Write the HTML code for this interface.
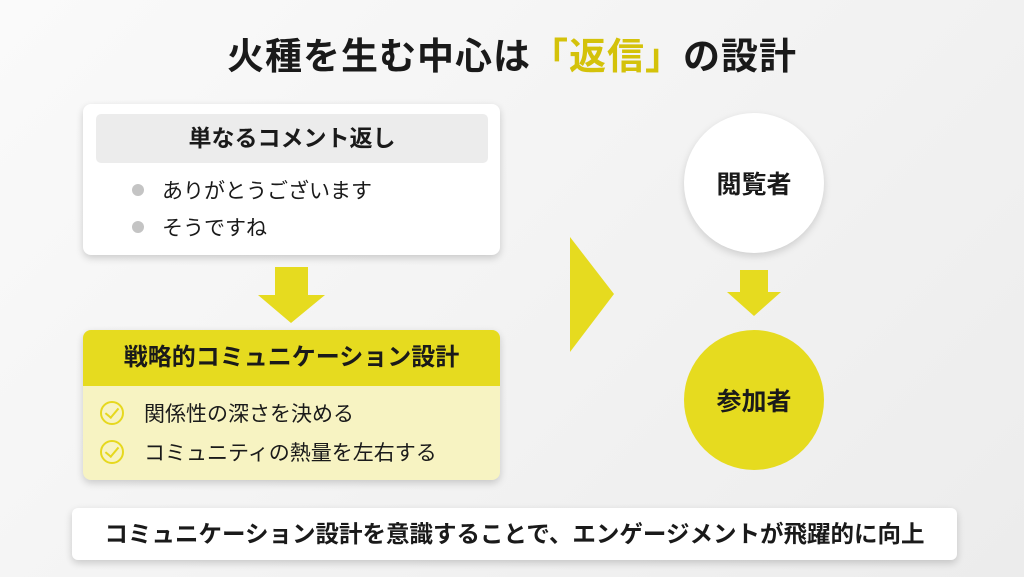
<!DOCTYPE html>
<html><head><meta charset="utf-8"><style>
body{margin:0;width:1024px;height:577px;overflow:hidden;background:linear-gradient(135deg,#fafafa,#ececec);font-family:"Liberation Sans","Noto Sans CJK JP",sans-serif;color:#1a1a1a;position:relative}
.a{position:absolute}
.t{left:0;width:1024px;top:26px;text-align:center;font-size:37px;font-weight:700;letter-spacing:1px}
.card{border-radius:8px;box-shadow:0 3px 8px rgba(0,0,0,.18);overflow:hidden}
.li{font-size:21px;display:flex;align-items:center}
.dot{width:12px;height:12px;border-radius:50%;background:#c4c4c4;margin-right:18px}
.ck{width:24px;height:24px;border:2.5px solid #e6d81e;border-radius:50%;margin-right:20px;position:relative;box-sizing:border-box}
.ck:after{content:"";position:absolute;left:6px;top:2px;width:6px;height:11px;border:solid #e6d81e;border-width:0 2.5px 2.5px 0;transform:rotate(40deg)}
.c{border-radius:50%;display:flex;align-items:center;justify-content:center;font-size:25px;font-weight:700}
</style></head><body>
<div class="a t">火種を生む中心は<span style="color:#d4c20a">「返信」</span>の設計</div>

<div class="a card" style="left:83px;top:104px;width:417px;height:151px;background:#fff">
 <div class="a" style="left:13px;top:10px;width:392px;height:49px;background:#ececec;border-radius:5px;text-align:center;line-height:49px;font-size:23px;font-weight:700">単なるコメント返し</div>
 <div class="a li" style="left:49px;top:71px"><span class="dot"></span>ありがとうございます</div>
 <div class="a li" style="left:49px;top:108px"><span class="dot"></span>そうですね</div>
</div>

<svg class="a" style="left:0;top:0" width="1024" height="577">
 <polygon points="275,267 308,267 308,295 325,295 291,323 258,295 275,295" fill="#e6db1f"/>
 <polygon points="570,237 614,294 570,352" fill="#e6db1f"/>
 <polygon points="740,270 768,270 768,292 781,292 754,316 727,292 740,292" fill="#e6db1f"/>
</svg>

<div class="a card" style="left:83px;top:330px;width:417px;height:150px;background:#f7f3c2">
 <div class="a" style="left:0;top:0;width:417px;height:56px;background:#e6db1f;text-align:center;line-height:56px;font-size:24px;font-weight:700">戦略的コミュニケーション設計</div>
 <div class="a li" style="left:17px;top:68px"><span class="ck"></span>関係性の深さを決める</div>
 <div class="a li" style="left:17px;top:107px"><span class="ck"></span>コミュニティの熱量を左右する</div>
</div>

<div class="a c" style="left:684px;top:113px;width:140px;height:140px;background:#fff;box-shadow:0 3px 8px rgba(0,0,0,.15)">閲覧者</div>
<div class="a c" style="left:684px;top:330px;width:140px;height:140px;background:#e6db1f">参加者</div>

<div class="a card" style="left:72px;top:508px;width:885px;height:52px;background:#fff;text-align:center;line-height:52px;font-size:23.5px;font-weight:700;border-radius:6px">コミュニケーション設計を意識することで、エンゲージメントが飛躍的に向上</div>
</body></html>
